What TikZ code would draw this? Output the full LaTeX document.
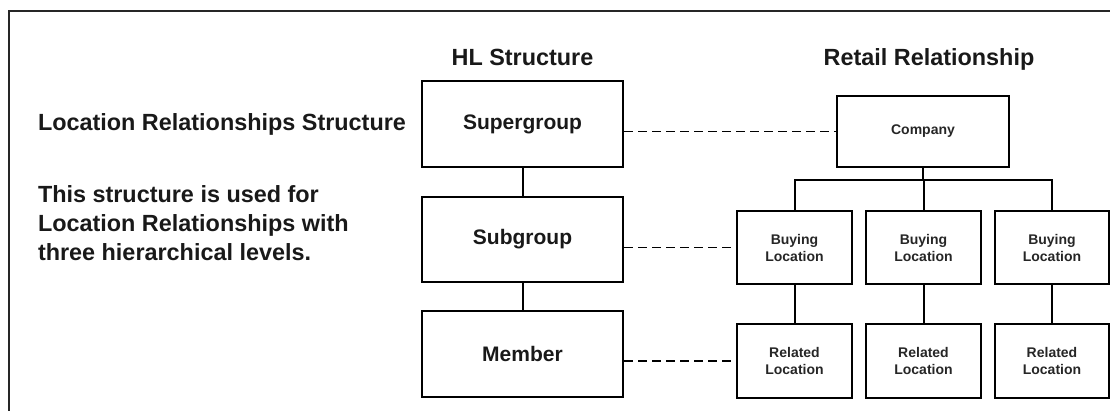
\documentclass[tikz,border=0pt]{standalone}
\usepackage{fontspec}
\setmainfont{Liberation Sans}
\begin{document}
\begin{tikzpicture}[x=1pt,y=-1pt,
  line width=2pt,
  hlbox/.style={draw=black, rectangle, inner sep=0pt, minimum width=201pt,
    minimum height=86pt, font=\bfseries\fontsize{21}{25}\selectfont, text=black!90},
  rbox/.style={draw=black, rectangle, inner sep=0pt, minimum width=115pt,
    minimum height=73pt, align=center,
    font=\bfseries\fontsize{14}{17}\selectfont, text=black!85},
  heading/.style={inner sep=0pt, font=\bfseries\fontsize{23.4}{28}\selectfont, text=black!90},
  link/.style={dash pattern=on 9pt off 5pt, line width=1.8pt},
  tie/.style={line width=2pt}]
\useasboundingbox (0,0) rectangle (1110,411);

% outer frame (open on the right and at the bottom)
\draw[line width=2pt, black!85] (8.5,413) -- (8.5,11) -- (1112,11);

% headings and description
\node[heading, anchor=base] (hlhead) at (522.5,66) {HL Structure};
\node[heading, anchor=base] (rthead) at (929,66) {Retail Relationship};
\node[heading, anchor=base west] (title) at (37,131) {Location Relationships Structure};
\node[heading, anchor=base west] (desc1) at (37,203) {This structure is used for};
\node[heading, anchor=base west] (desc2) at (37,231.5) {Location Relationships with};
\node[heading, anchor=base west] (desc3) at (37,260.5) {three hierarchical levels.};

% HL structure column
\node[hlbox] (sg)  at (522.5,124)   {Supergroup};
\node[hlbox, minimum height=85pt] (sub) at (522.5,239.5) {Subgroup};
\node[hlbox] (mem) at (522.5,354)   {Member};
\draw[tie] (sg.south) -- (sub.north);
\draw[tie] (sub.south) -- (mem.north);

% retail relationship tree
\node[rbox, minimum width=172pt, minimum height=71pt] (co) at (923,131.5) {Company};
\node[rbox] (b1) at (794.5,247.5) {Buying\\Location};
\node[rbox] (b2) at (923.5,247.5) {Buying\\Location};
\node[rbox, minimum width=114pt] (b3) at (1052,247.5) {Buying\\Location};
\node[rbox, minimum height=74pt] (r1) at (794.5,361) {Related\\Location};
\node[rbox, minimum height=74pt] (r2) at (923.5,361) {Related\\Location};
\node[rbox, minimum width=114pt, minimum height=74pt] (r3) at (1052,361) {Related\\Location};

\coordinate (bus) at (923,180);
\draw[tie] (co.south) -- (co.south |- bus);
\draw[tie] (b1.north) -- (b1.north |- bus) -- (b3.north |- bus) -- (b3.north);
\draw[tie] (b2.north) -- (b2.north |- bus);
\draw[tie] (b1.south) -- (r1.north);
\draw[tie] (b2.south) -- (r2.north);
\draw[tie] (b3.south) -- (r3.north);

% dashed level links
\draw[link] (sg.east |- co.west) -- (co.west);
\draw[link] (sub.east |- b1.west) -- (b1.west);
\draw[link] (mem.east |- r1.west) -- (r1.west);
\end{tikzpicture}
\end{document}
